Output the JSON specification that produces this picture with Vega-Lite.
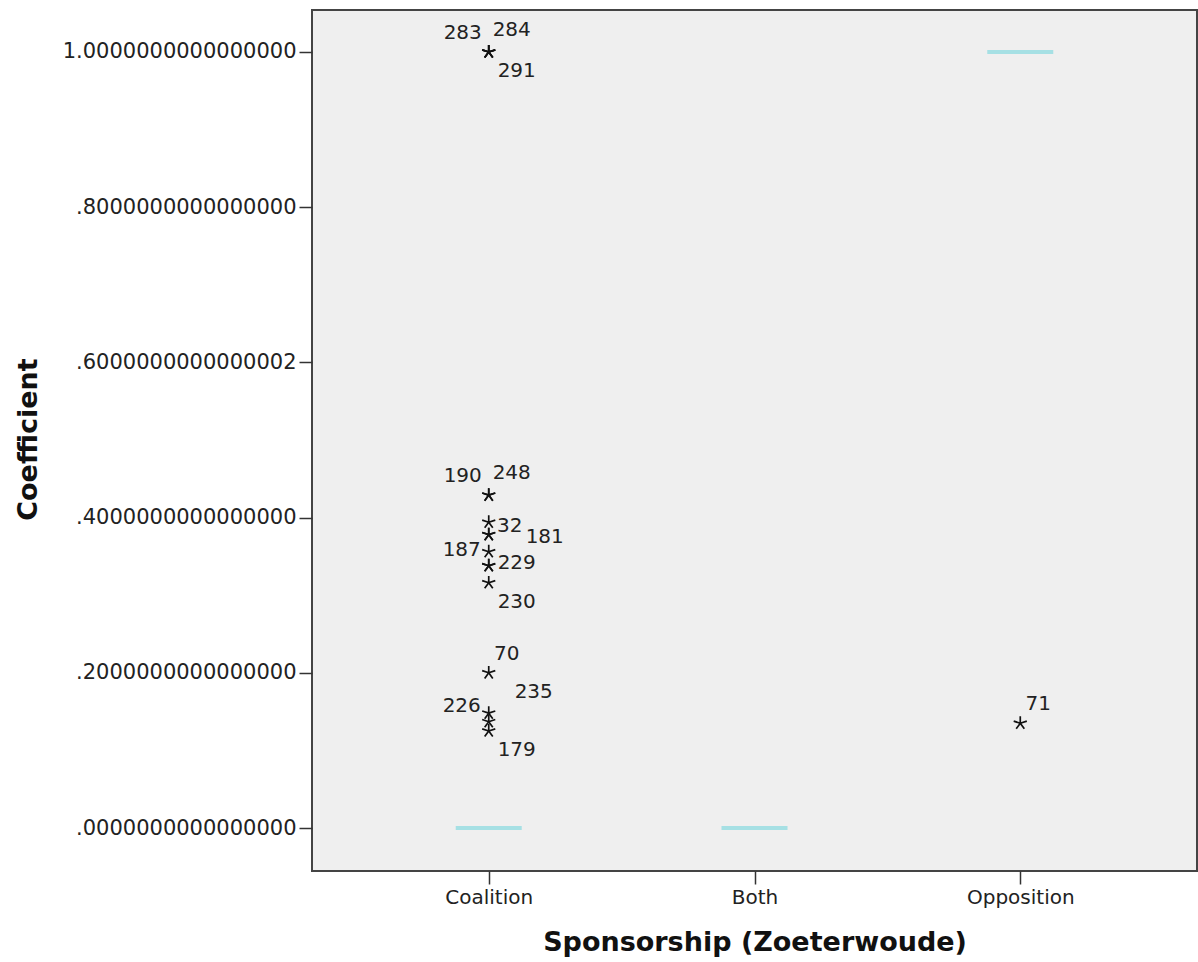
{
  "$schema": "https://vega.github.io/schema/vega-lite/v6.json",
  "width": 885,
  "height": 861,
  "autosize": "none",
  "padding": {"left": 312, "top": 10, "right": 1, "bottom": 91},
  "background": "white",
  "config": {
    "view": {"fill": "#efefef", "stroke": "#444444", "strokeWidth": 2},
    "font": "DejaVu Sans"
  },
  "datasets": {
    "points": [
      {"group": "Coalition", "id": "283", "value": 1.0},
      {"group": "Coalition", "id": "284", "value": 1.0},
      {"group": "Coalition", "id": "291", "value": 1.0},
      {"group": "Coalition", "id": "190", "value": 0.429},
      {"group": "Coalition", "id": "248", "value": 0.429},
      {"group": "Coalition", "id": "32", "value": 0.394},
      {"group": "Coalition", "id": "181", "value": 0.378},
      {"group": "Coalition", "id": "", "value": 0.378},
      {"group": "Coalition", "id": "187", "value": 0.356},
      {"group": "Coalition", "id": "229", "value": 0.338},
      {"group": "Coalition", "id": "", "value": 0.338},
      {"group": "Coalition", "id": "230", "value": 0.316},
      {"group": "Coalition", "id": "70", "value": 0.2},
      {"group": "Coalition", "id": "226", "value": 0.148},
      {"group": "Coalition", "id": "235", "value": 0.137},
      {"group": "Coalition", "id": "179", "value": 0.125},
      {"group": "Opposition", "id": "71", "value": 0.135}
    ],
    "medians": [
      {"group": "Coalition", "value": 0},
      {"group": "Both", "value": 0},
      {"group": "Opposition", "value": 1}
    ]
  },
  "encoding": {
    "x": {
      "field": "group",
      "type": "nominal",
      "sort": null,
      "scale": {"type": "point", "domain": ["Coalition", "Both", "Opposition"], "padding": 0.665},
      "axis": {
        "title": "Sponsorship (Zoeterwoude)",
        "titleFontSize": 27,
        "titleFontWeight": "bold",
        "titleColor": "#111111",
        "titlePadding": 22,
        "labelFontSize": 20,
        "labelColor": "#222222",
        "labelAngle": 0,
        "labelPadding": 3,
        "tickSize": 13,
        "tickColor": "#333333",
        "tickWidth": 1.5,
        "domain": false,
        "grid": false
      }
    },
    "y": {
      "field": "value",
      "type": "quantitative",
      "scale": {"domain": [-0.0554, 1.0541], "nice": false, "zero": false},
      "axis": {
        "title": "Coefficient",
        "titleFontSize": 27,
        "titleFontWeight": "bold",
        "titleColor": "#111111",
        "titleX": -284,
        "titleY": 429,
        "titleAngle": -90,
        "titleAlign": "center",
        "titleBaseline": "middle",
        "values": [0, 0.2, 0.4, 0.6, 0.8, 1.0],
        "labelExpr": "datum.value >= 0.999 ? '1.0000000000000000' : (abs(datum.value - 0.6) < 0.001 ? '.6000000000000002' : substring(format(datum.value, '.16f'), 1))",
        "labelFontSize": 21,
        "labelLimit": 0,
        "labelColor": "#222222",
        "labelPadding": 3,
        "tickSize": 13,
        "tickColor": "#333333",
        "tickWidth": 1.5,
        "domain": false,
        "grid": false
      }
    }
  },
  "layer": [
    {
      "data": {"name": "medians"},
      "mark": {"type": "tick", "color": "#a6e0e4", "size": 66, "thickness": 4, "opacity": 1}
    },
    {
      "data": {"name": "points"},
      "mark": {
        "type": "point",
        "shape": "M0,0L0,-1M0,0L0.951,-0.309M0,0L0.588,0.809M0,0L-0.588,0.809M0,0L-0.951,-0.309",
        "filled": false,
        "stroke": "#111111",
        "strokeWidth": 1.7,
        "size": 190,
        "opacity": 1
      }
    },
    {
      "data": {"name": "points"},
      "transform": [{"filter": {"field": "id", "oneOf": ["283", "190"]}}],
      "mark": {"type": "text", "fontSize": 20, "color": "#222222", "align": "center", "baseline": "middle", "dx": -26, "dy": -19},
      "encoding": {"text": {"field": "id"}}
    },
    {
      "data": {"name": "points"},
      "transform": [{"filter": {"field": "id", "oneOf": ["284", "248"]}}],
      "mark": {"type": "text", "fontSize": 20, "color": "#222222", "align": "center", "baseline": "middle", "dx": 23, "dy": -22},
      "encoding": {"text": {"field": "id"}}
    },
    {
      "data": {"name": "points"},
      "transform": [{"filter": {"field": "id", "oneOf": ["291", "230", "179"]}}],
      "mark": {"type": "text", "fontSize": 20, "color": "#222222", "align": "center", "baseline": "middle", "dx": 28, "dy": 19},
      "encoding": {"text": {"field": "id"}}
    },
    {
      "data": {"name": "points"},
      "transform": [{"filter": {"field": "id", "oneOf": ["32"]}}],
      "mark": {"type": "text", "fontSize": 20, "color": "#222222", "align": "center", "baseline": "middle", "dx": 21, "dy": 4},
      "encoding": {"text": {"field": "id"}}
    },
    {
      "data": {"name": "points"},
      "transform": [{"filter": {"field": "id", "oneOf": ["229"]}}],
      "mark": {"type": "text", "fontSize": 20, "color": "#222222", "align": "center", "baseline": "middle", "dx": 28, "dy": -3},
      "encoding": {"text": {"field": "id"}}
    },
    {
      "data": {"name": "points"},
      "transform": [{"filter": {"field": "id", "oneOf": ["181"]}}],
      "mark": {"type": "text", "fontSize": 20, "color": "#222222", "align": "center", "baseline": "middle", "dx": 56, "dy": 2},
      "encoding": {"text": {"field": "id"}}
    },
    {
      "data": {"name": "points"},
      "transform": [{"filter": {"field": "id", "oneOf": ["187"]}}],
      "mark": {"type": "text", "fontSize": 20, "color": "#222222", "align": "center", "baseline": "middle", "dx": -27, "dy": -2},
      "encoding": {"text": {"field": "id"}}
    },
    {
      "data": {"name": "points"},
      "transform": [{"filter": {"field": "id", "oneOf": ["226"]}}],
      "mark": {"type": "text", "fontSize": 20, "color": "#222222", "align": "center", "baseline": "middle", "dx": -27, "dy": -7},
      "encoding": {"text": {"field": "id"}}
    },
    {
      "data": {"name": "points"},
      "transform": [{"filter": {"field": "id", "oneOf": ["70", "71"]}}],
      "mark": {"type": "text", "fontSize": 20, "color": "#222222", "align": "center", "baseline": "middle", "dx": 18, "dy": -19},
      "encoding": {"text": {"field": "id"}}
    },
    {
      "data": {"name": "points"},
      "transform": [{"filter": {"field": "id", "oneOf": ["235"]}}],
      "mark": {"type": "text", "fontSize": 20, "color": "#222222", "align": "center", "baseline": "middle", "dx": 45, "dy": -30},
      "encoding": {"text": {"field": "id"}}
    }
  ]
}
